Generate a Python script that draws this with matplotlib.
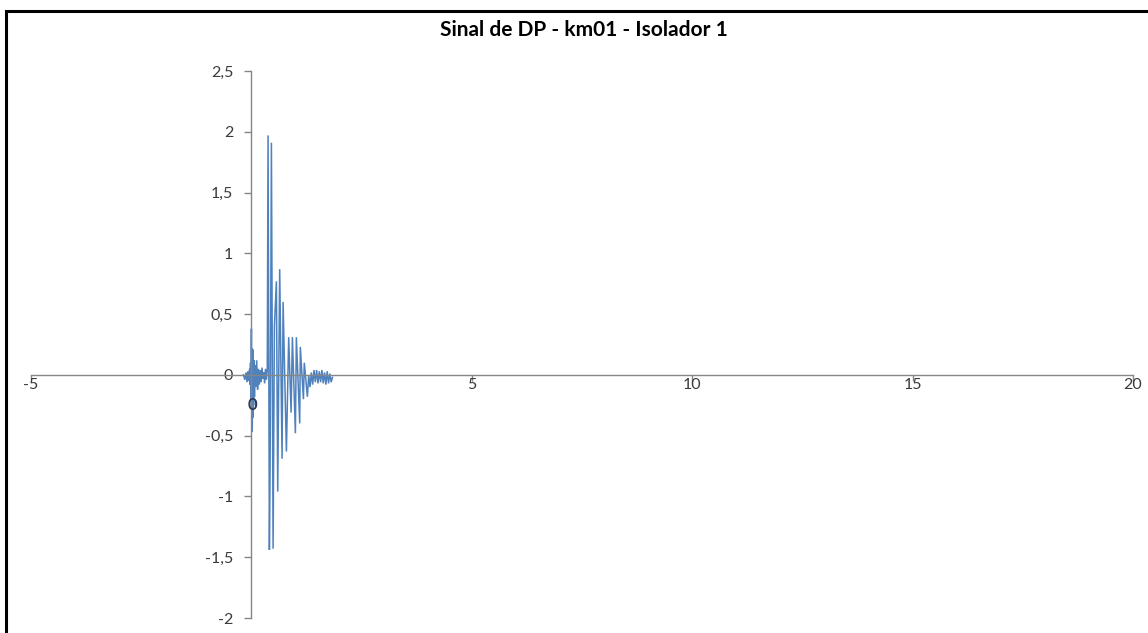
import matplotlib
matplotlib.use("Agg")
import matplotlib.pyplot as plt
from matplotlib.patches import Rectangle

# Partial-discharge pulse recorded at km01, insulator 1
title = "Sinal de DP - km01 - Isolador 1"

# Low-level activity around the trigger instant
t_pre = [-0.18, -0.15, -0.12, -0.10, -0.08, -0.06, -0.04, -0.03, -0.02, -0.01,
         0.00, 0.01, 0.015, 0.02, 0.03, 0.035, 0.04, 0.05, 0.06, 0.07,
         0.08, 0.10, 0.12, 0.14, 0.16, 0.18, 0.20, 0.22, 0.24, 0.26,
         0.28, 0.30, 0.32, 0.34, 0.36]
v_pre = [0.00, -0.04, 0.02, -0.06, 0.03, -0.05, 0.05, -0.08, 0.10, -0.20,
         0.38, -0.47, 0.22, -0.43, 0.21, -0.35, 0.15, -0.25, 0.12, -0.18,
         0.08, -0.10, 0.12, -0.12, 0.05, -0.08, 0.04, -0.06, 0.06, -0.03,
         0.02, -0.07, 0.05, -0.04, 0.04]

# Main damped oscillation
t_pulse = [0.378, 0.408, 0.425, 0.454, 0.492, 0.522, 0.567, 0.597, 0.642, 0.696,
           0.719, 0.794, 0.846, 0.900, 0.930, 0.998, 1.020, 1.096, 1.110, 1.180,
           1.200, 1.270, 1.300]
v_pulse = [1.97, -1.44, -0.72, 1.91, -1.43, 0.40, 0.77, -0.96, 0.87, -0.69,
           0.60, -0.63, 0.31, -0.31, 0.31, -0.48, 0.31, -0.40, 0.23, -0.20,
           0.10, -0.18, 0.00]

# Residual ringing
t_tail = [1.33, 1.36, 1.39, 1.42, 1.45, 1.48, 1.51, 1.54, 1.57, 1.60,
          1.63, 1.66, 1.69, 1.72, 1.75, 1.78, 1.81, 1.84]
v_tail = [-0.10, 0.02, -0.08, 0.04, -0.06, 0.04, -0.07, 0.03, -0.06, 0.04,
          -0.07, 0.02, -0.08, 0.03, -0.07, 0.01, -0.06, -0.02]

x_ticks = [-5, 5, 10, 15, 20]
x_labels = ["-5", "5", "10", "15", "20"]
y_ticks = [-2, -1.5, -1, -0.5, 0, 0.5, 1, 1.5, 2, 2.5]
y_labels = ["-2", "-1,5", "-1", "-0,5", "0", "0,5", "1", "1,5", "2", "2,5"]

W, H = 1148, 633
fig = plt.figure(figsize=(W / 100, H / 100), dpi=100)
fig.patch.set_facecolor("white")

ax = fig.add_axes([31 / W, (H - 618) / H, 1102 / W, 547 / H])
t = t_pre + t_pulse + t_tail
v = v_pre + v_pulse + v_tail
ax.plot(t, v, color="#4F81BD", lw=1.1, solid_joinstyle="miter")

ax.set_xlim(-5, 20)
ax.set_ylim(-2, 2.5)

axis_grey = "#868686"
for side in ("top", "right"):
    ax.spines[side].set_visible(False)
ax.spines["left"].set_position(("data", 0))
ax.spines["bottom"].set_position(("data", 0))
for side in ("left", "bottom"):
    ax.spines[side].set_color(axis_grey)
    ax.spines[side].set_linewidth(1.0)

label_font = dict(family="Lato", size=11.5)
label_color = "#3a3a3a"
ax.set_xticks(x_ticks)
ax.set_xticklabels(x_labels, **label_font)
ax.set_yticks(y_ticks)
ax.set_yticklabels(y_labels, **label_font)
ax.tick_params(axis="y", direction="out", length=5, width=1.0,
               color=axis_grey, pad=8, labelcolor=label_color)
ax.tick_params(axis="x", direction="out", length=4, width=1.0,
               color=axis_grey, pad=-1.5, labelcolor=label_color)

# Origin label under the pulse
ax.text(0.02, -0.25, "0", ha="center", va="center", family="Lato",
        size=12, color="#2b3a55", fontweight="bold")

fig.text(0.509, 1 - 30 / H, title, ha="center", va="center",
         family="Lato", fontweight="bold", size=15, color="#000000")

# Outer frame of the chart area
fig.patches.append(Rectangle((5.5 / W, -0.2), 2.0, (H - 11) / H + 0.2,
                             transform=fig.transFigure, fill=False,
                             edgecolor="black", lw=2.2))

fig.savefig("out.png", dpi=100, facecolor="white")
